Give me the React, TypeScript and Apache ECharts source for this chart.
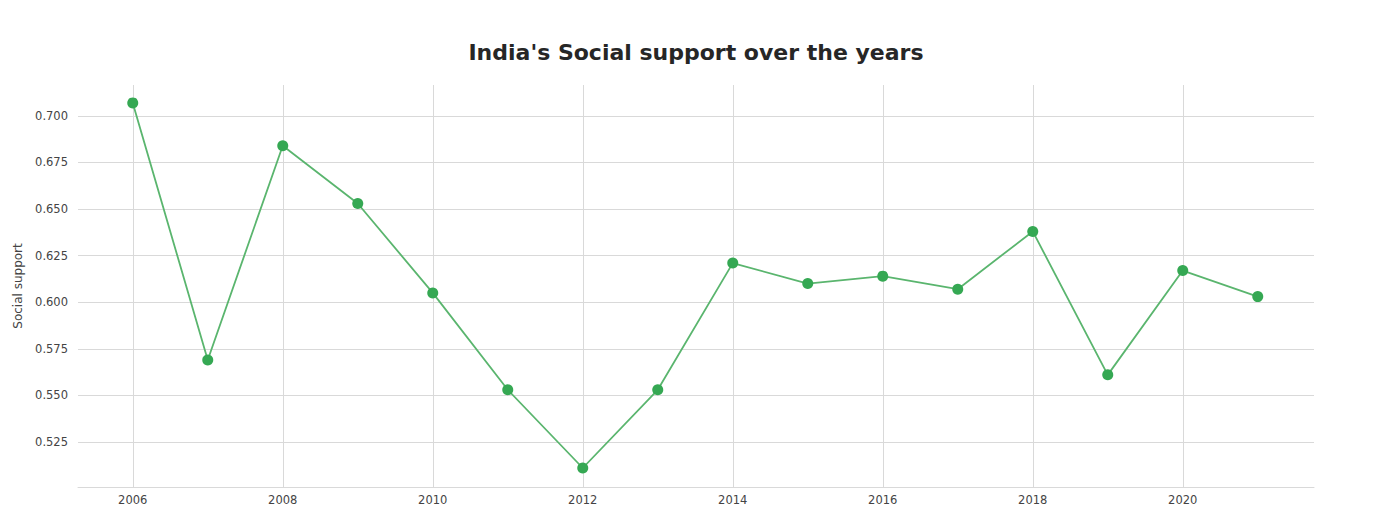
import React, { useEffect, useRef } from "react";
import * as echarts from "echarts";

const years = [2006, 2007, 2008, 2009, 2010, 2011, 2012, 2013, 2014, 2015, 2016, 2017, 2018, 2019, 2020, 2021];
const socialSupport = [0.707, 0.569, 0.684, 0.653, 0.605, 0.553, 0.511, 0.553, 0.621, 0.61, 0.614, 0.607, 0.638, 0.561, 0.617, 0.603];
const xTicks = [2006, 2008, 2010, 2012, 2014, 2016, 2018, 2020];
const yTicks = [0.525, 0.55, 0.575, 0.6, 0.625, 0.65, 0.675, 0.7];

export default function App() {
  const ref = useRef<HTMLDivElement>(null);
  useEffect(() => {
    if (!ref.current) return;
    const chart = echarts.init(ref.current, undefined, { renderer: "svg" });
    chart.setOption({
      animation: false,
      backgroundColor: "#ffffff",
      title: {
        text: "India's Social support over the years",
        left: 683,
        textAlign: "center",
        top: 28,
        textStyle: { fontFamily: "DejaVu Sans", fontSize: 22, fontWeight: "bold", color: "#262626" },
      },
      grid: { left: 70, right: 59, top: 77, bottom: 34, outerBoundsMode: "none", containLabel: false },
      xAxis: {
        type: "value",
        min: 2005.27,
        max: 2021.75,
        axisLine: { show: true, lineStyle: { color: "#d9d9d9", width: 1 } },
        axisTick: { show: false, customValues: xTicks },
        axisLabel: {
          customValues: xTicks,
          formatter: (v: number) => String(Math.round(v)),
          fontFamily: "DejaVu Sans",
          fontSize: 11.5,
          color: "#444444",
          margin: 7,
        },
        splitLine: { show: true, lineStyle: { color: "#d9d9d9", width: 1 } },
      },
      yAxis: {
        type: "value",
        min: 0.5008,
        max: 0.7166,
        name: "Social support",
        nameLocation: "middle",
        nameGap: 52,
        nameTextStyle: { fontFamily: "DejaVu Sans", fontSize: 12, color: "#444444" },
        axisLine: { show: false },
        axisTick: { show: false, customValues: yTicks },
        axisLabel: {
          customValues: yTicks,
          formatter: (v: number) => v.toFixed(3),
          fontFamily: "DejaVu Sans",
          fontSize: 11.5,
          color: "#444444",
          margin: 10,
        },
        splitLine: { show: true, lineStyle: { color: "#d9d9d9", width: 1 } },
      },
      series: [
        {
          type: "line",
          data: years.map((y, i) => [y, socialSupport[i]]),
          symbol: "circle",
          symbolSize: 11,
          lineStyle: { color: "#5ab56e", width: 1.8 },
          itemStyle: { color: "#35a853", borderColor: "#35a853", borderWidth: 0 },
        },
      ],
    });
    return () => chart.dispose();
  }, []);
  return <div ref={ref} style={{ width: 1365, height: 513 }} />;
}
